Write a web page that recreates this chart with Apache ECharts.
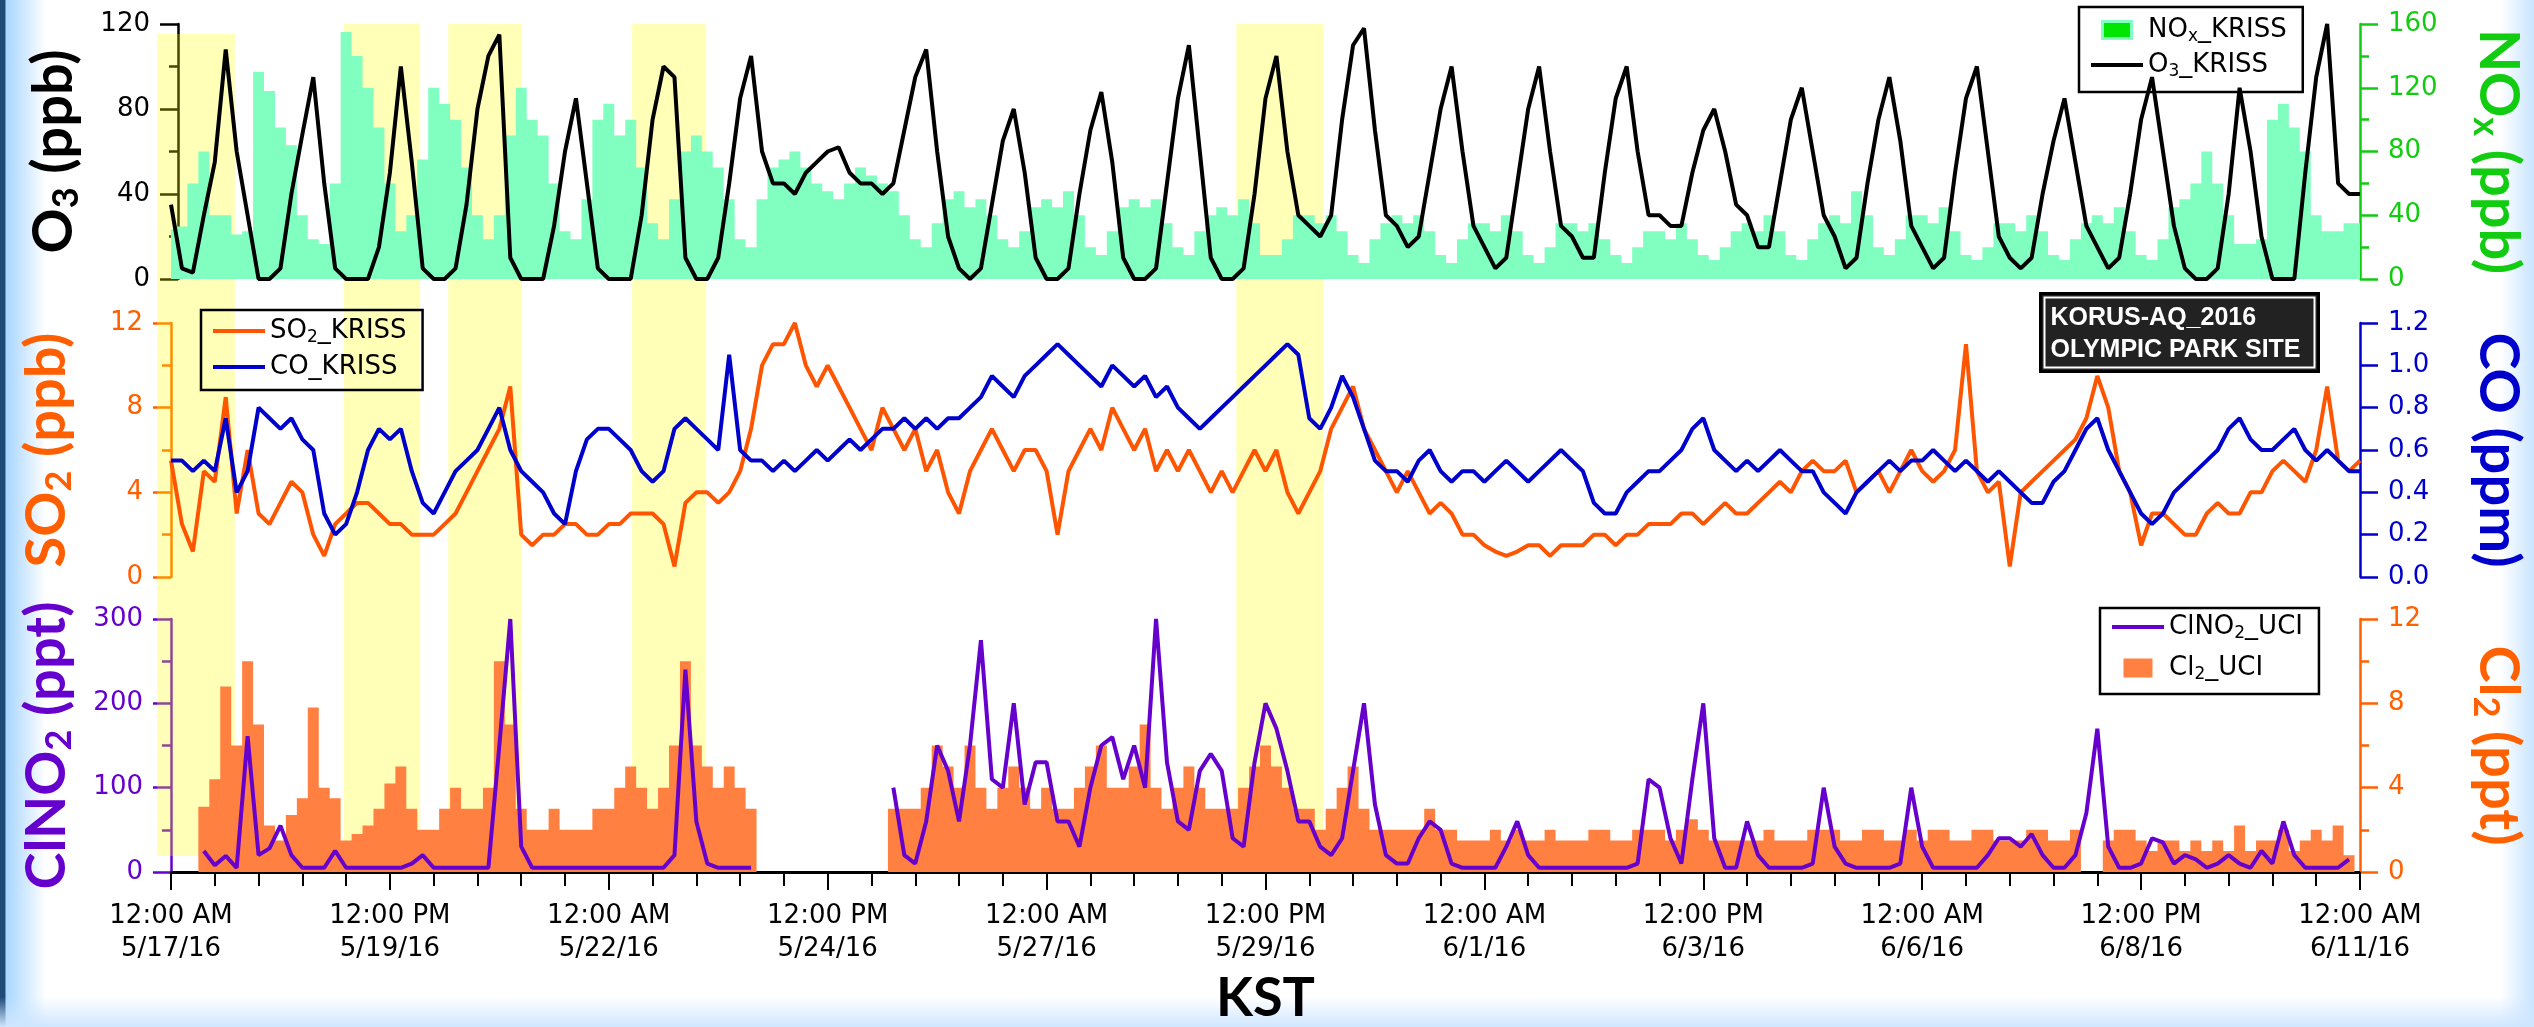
<!DOCTYPE html>
<html>
<head>
<meta charset="utf-8">
<script src="https://cdn.jsdelivr.net/npm/echarts@6/dist/echarts.min.js"></script>
<style>
html,body{margin:0;padding:0;width:2534px;height:1027px;overflow:hidden;background:#fff;}
#bgL{position:absolute;left:0;top:0;width:46px;height:1027px;background:linear-gradient(to right,#1e4a78 0,#1e4a78 5px,#a8d6ff 6px,#ffffff 46px);}
#bgR{position:absolute;right:0;top:0;width:34px;height:1027px;background:linear-gradient(to right,rgba(255,255,255,0) 0,#c8e4ff 100%);}
#bgB{position:absolute;left:0;bottom:0;width:2534px;height:30px;background:linear-gradient(to bottom,rgba(255,255,255,0) 0,#cfe6ff 100%);}
#container{position:absolute;left:0;top:0;width:2534px;height:1027px;}
</style>
</head>
<body>
<div id="bgL"></div><div id="bgR"></div><div id="bgB"></div>
<div id="container"></div>
<script>
// samples every 3 hours starting 12:00 AM 5/17/16 (one row = one day: 0,3,6,...,21 h)
var step = 3
var xTickLabels = ['12:00 AM\n5/17/16', '12:00 PM\n5/19/16', '12:00 AM\n5/22/16', '12:00 PM\n5/24/16',
    '12:00 AM\n5/27/16', '12:00 PM\n5/29/16', '12:00 AM\n6/1/16', '12:00 PM\n6/3/16',
    '12:00 AM\n6/6/16', '12:00 PM\n6/8/16', '12:00 AM\n6/11/16']

var o3 = [
    35, 5, 3, 30, 55, 108, 60, 30,
    0, 0, 5, 40, 68, 95, 45, 5,
    0, 0, 0, 15, 50, 100, 55, 5,
    0, 0, 5, 35, 80, 105, 115, 10,
    0, 0, 0, 25, 60, 85, 45, 5,
    0, 0, 0, 30, 75, 100, 95, 10,
    0, 0, 10, 45, 85, 105, 60, 45,
    45, 40, 50, 55, 60, 62, 50, 45,
    45, 40, 45, 70, 95, 108, 60, 20,
    5, 0, 5, 35, 65, 80, 50, 10,
    0, 0, 5, 40, 70, 88, 55, 10,
    0, 0, 5, 45, 85, 110, 60, 10,
    0, 0, 5, 40, 85, 105, 60, 30,
    25, 20, 30, 75, 110, 118, 70, 30,
    25, 15, 20, 50, 80, 100, 60, 25,
    15, 5, 10, 45, 80, 100, 60, 25,
    20, 10, 10, 50, 85, 100, 60, 30,
    30, 25, 25, 50, 70, 80, 60, 35,
    30, 15, 15, 45, 75, 90, 60, 30,
    20, 5, 10, 45, 75, 95, 65, 25,
    15, 5, 10, 50, 85, 100, 60, 20,
    10, 5, 10, 40, 65, 85, 55, 25,
    15, 5, 10, 40, 75, 95, 60, 25,
    5, 0, 0, 5, 40, 90, 60, 20,
    0, 0, 0, 50, 95, 120, 45, 40,
    40
]
var nox = [
    31, 33, 60, 80, 40, 40, 28, 30,
    130, 118, 95, 84, 40, 25, 22, 60,
    155, 140, 120, 95, 60, 30, 40, 75,
    120, 110, 100, 70, 40, 25, 40, 90,
    120, 100, 90, 60, 30, 25, 50, 100,
    110, 90, 100, 70, 35, 25, 50, 80,
    90, 80, 70, 50, 25, 20, 50, 70,
    75, 80, 70, 60, 55, 50, 60, 70,
    65, 60, 55, 40, 25, 20, 35, 50,
    55, 45, 50, 40, 25, 20, 30, 45,
    50, 45, 55, 40, 20, 15, 30, 45,
    50, 45, 50, 35, 20, 15, 30, 40,
    45, 40, 50, 35, 15, 15, 25, 40,
    40, 35, 40, 30, 15, 10, 25, 35,
    40, 35, 40, 30, 15, 10, 25, 35,
    35, 30, 40, 30, 15, 10, 20, 35,
    35, 30, 35, 25, 15, 10, 20, 30,
    30, 25, 35, 25, 15, 12, 20, 30,
    35, 30, 40, 30, 15, 12, 25, 35,
    40, 35, 55, 40, 20, 15, 25, 40,
    40, 35, 45, 30, 15, 12, 20, 35,
    35, 30, 40, 30, 15, 12, 25, 35,
    40, 35, 45, 30, 15, 12, 25, 45,
    50, 60, 80, 60, 40, 22, 22, 25,
    100, 110, 95, 80, 40, 30, 30, 35,
    35
]
var so2 = [
    5.5, 2.5, 1.2, 5, 4.5, 8.5, 3, 6,
    3, 2.5, 3.5, 4.5, 4, 2, 1, 2.5,
    3, 3.5, 3.5, 3, 2.5, 2.5, 2, 2,
    2, 2.5, 3, 4, 5, 6, 7, 9,
    2, 1.5, 2, 2, 2.5, 2.5, 2, 2,
    2.5, 2.5, 3, 3, 3, 2.5, 0.5, 3.5,
    4, 4, 3.5, 4, 5, 7, 10, 11,
    11, 12, 10, 9, 10, 9, 8, 7,
    6, 8, 7, 6, 7, 5, 6, 4,
    3, 5, 6, 7, 6, 5, 6, 6,
    5, 2, 5, 6, 7, 6, 8, 7,
    6, 7, 5, 6, 5, 6, 5, 4,
    5, 4, 5, 6, 5, 6, 4, 3,
    4, 5, 7, 8, 9, 7, 6, 5,
    4, 5, 4, 3, 3.5, 3, 2, 2,
    1.5, 1.2, 1, 1.2, 1.5, 1.5, 1, 1.5,
    1.5, 1.5, 2, 2, 1.5, 2, 2, 2.5,
    2.5, 2.5, 3, 3, 2.5, 3, 3.5, 3,
    3, 3.5, 4, 4.5, 4, 5, 5.5, 5,
    5, 5.5, 4, 4.5, 5, 4, 5, 6,
    5, 4.5, 5, 6, 11, 5, 4, 4.5,
    0.5, 4, 4.5, 5, 5.5, 6, 6.5, 7.5,
    9.5, 8, 5, 4, 1.5, 3, 3, 2.5,
    2, 2, 3, 3.5, 3, 3, 4, 4,
    5, 5.5, 5, 4.5, 6, 9, 5.5, 5,
    5.5
]
var co = [
    0.55, 0.55, 0.5, 0.55, 0.5, 0.75, 0.4, 0.5,
    0.8, 0.75, 0.7, 0.75, 0.65, 0.6, 0.3, 0.2,
    0.25, 0.4, 0.6, 0.7, 0.65, 0.7, 0.5, 0.35,
    0.3, 0.4, 0.5, 0.55, 0.6, 0.7, 0.8, 0.6,
    0.5, 0.45, 0.4, 0.3, 0.25, 0.5, 0.65, 0.7,
    0.7, 0.65, 0.6, 0.5, 0.45, 0.5, 0.7, 0.75,
    0.7, 0.65, 0.6, 1.05, 0.6, 0.55, 0.55, 0.5,
    0.55, 0.5, 0.55, 0.6, 0.55, 0.6, 0.65, 0.6,
    0.65, 0.7, 0.7, 0.75, 0.7, 0.75, 0.7, 0.75,
    0.75, 0.8, 0.85, 0.95, 0.9, 0.85, 0.95, 1.0,
    1.05, 1.1, 1.05, 1.0, 0.95, 0.9, 1.0, 0.95,
    0.9, 0.95, 0.85, 0.9, 0.8, 0.75, 0.7, 0.75,
    0.8, 0.85, 0.9, 0.95, 1.0, 1.05, 1.1, 1.05,
    0.75, 0.7, 0.8, 0.95, 0.85, 0.7, 0.55, 0.5,
    0.5, 0.45, 0.55, 0.6, 0.5, 0.45, 0.5, 0.5,
    0.45, 0.5, 0.55, 0.5, 0.45, 0.5, 0.55, 0.6,
    0.55, 0.5, 0.35, 0.3, 0.3, 0.4, 0.45, 0.5,
    0.5, 0.55, 0.6, 0.7, 0.75, 0.6, 0.55, 0.5,
    0.55, 0.5, 0.55, 0.6, 0.55, 0.5, 0.5, 0.4,
    0.35, 0.3, 0.4, 0.45, 0.5, 0.55, 0.5, 0.55,
    0.55, 0.6, 0.55, 0.5, 0.55, 0.5, 0.45, 0.5,
    0.45, 0.4, 0.35, 0.35, 0.45, 0.5, 0.6, 0.7,
    0.75, 0.6, 0.5, 0.4, 0.3, 0.25, 0.3, 0.4,
    0.45, 0.5, 0.55, 0.6, 0.7, 0.75, 0.65, 0.6,
    0.6, 0.65, 0.7, 0.6, 0.55, 0.6, 0.55, 0.5,
    0.5
]
var clno2 = [
    null, null, null, 25, 8, 19, 5, 161,
    20, 28, 55, 20, 5, 5, 5, 25,
    5, 5, 5, 5, 5, 5, 10, 20,
    5, 5, 5, 5, 5, 5, 150, 300,
    30, 5, 5, 5, 5, 5, 5, 5,
    5, 5, 5, 5, 5, 5, 20, 240,
    60, 10, 5, 5, 5, 5, null, null,
    null, null, null, null, null, null, null, null,
    null, null, 100, 20, 10, 60, 150, 120,
    60, 150, 275, 110, 100, 200, 80, 130,
    130, 60, 60, 30, 100, 150, 160, 110,
    150, 100, 300, 130, 60, 50, 120, 140,
    120, 40, 30, 130, 200, 170, 120, 60,
    60, 30, 20, 40, 120, 200, 80, 20,
    10, 10, 40, 60, 50, 10, 5, 5,
    5, 5, 30, 60, 20, 5, 5, 5,
    5, 5, 5, 5, 5, 5, 10, 110,
    100, 40, 10, 110, 200, 40, 5, 5,
    60, 20, 5, 5, 5, 5, 10, 100,
    30, 10, 5, 5, 5, 5, 10, 100,
    30, 5, 5, 5, 5, 5, 20, 40,
    40, 30, 45, 20, 5, 5, 20, 70,
    170, 30, 5, 5, 10, 40, 35, 10,
    20, 15, 5, 10, 20, 10, 5, 25,
    10, 60, 20, 5, 5, 5, 5, 15,
    null
]
var cl2 = [
    null, null, null, 3.1, 4.4, 8.8, 6, 10,
    7, 2.2, 1.5, 2.7, 3.5, 7.8, 4, 3.5,
    1.5, 1.8, 2.2, 3, 4.2, 5, 3, 2,
    2, 3, 4, 3, 3, 4, 10, 7,
    3, 2, 2, 3, 2, 2, 2, 3,
    3, 4, 5, 4, 3, 4, 6, 10,
    6, 5, 4, 5, 4, 3, null, null,
    null, null, null, null, null, null, null, null,
    null, null, 3, 3, 3, 4, 6, 5,
    4, 6, 4, 3, 4, 5, 4, 3,
    4, 3, 3, 4, 5, 6, 4, 4,
    5, 7, 4, 3, 4, 5, 4, 3,
    3, 3, 4, 5, 6, 5, 4, 3,
    3, 2, 3, 4, 5, 3, 2, 2,
    2, 2, 2, 3, 2, 2, 1.5, 1.5,
    1.5, 2, 1.5, 2, 1.5, 1.5, 2, 1.5,
    1.5, 1.5, 2, 2, 1.5, 1.5, 2, 2,
    2, 1.5, 2, 2.5, 2, 1.5, 1.5, 1.5,
    1.5, 1.5, 2, 1.5, 1.5, 1.5, 2, 2,
    2, 1.5, 1.5, 2, 2, 1.5, 1.5, 2,
    1.5, 2, 2, 1.5, 1.5, 2, 2, 1.5,
    1.5, 1.5, 2, 2, 1.5, 1.5, 2, null,
    null, 1.5, 2, 2, 1.5, 1, 1.5, 1.5,
    1, 1.5, 1, 1.5, 1, 2.2, 1, 1.5,
    1.5, 2, 1, 1.5, 2, 1.5, 2.2, 0.8,
    null
]
// yellow highlight periods, hours from 12:00 AM 5/17/16
var bandStart = [-3.8, 47.4, 76.0, 126.4, 292.0]
var bandEnd = [17.5, 68.3, 96.2, 146.7, 315.9]

var TITLE_FONT = 'Lato, "DejaVu Sans", sans-serif'
var PLOT_L = 171, PLOT_R = 2360
var pxPerHour = (PLOT_R - PLOT_L) / 600

function pairs(vals){
    return vals.map(function(v, i){ return [i * step, v] })
}

function titleRich(color){
    return {
        m: { fontSize: 56, fontWeight: 'bold', fontFamily: TITLE_FONT, color: color, lineHeight: 60 },
        s: { fontSize: 36, fontWeight: 'bold', fontFamily: TITLE_FONT, color: color, verticalAlign: 'bottom', lineHeight: 22 }
    }
}

function yAxisOf(grid, pos, min, max, interval, color, name, minorSplit, digits, offset){
    return {
        type: 'value', gridIndex: grid, position: pos, min: min, max: max, interval: interval, offset: offset || 0,
        name: name, nameLocation: 'middle', nameGap: pos === 'left' ? 94 : 108,
        nameRotate: pos === 'left' ? 90 : -90,
        nameTextStyle: { color: color, rich: titleRich(color) },
        axisLine: { show: true, onZero: false, lineStyle: { color: color, width: 2.5 } },
        axisTick: { show: true, length: 18, lineStyle: { color: color, width: 2.5 } },
        minorTick: { show: minorSplit > 1, splitNumber: minorSplit || 2, length: 9, lineStyle: { color: color, width: 2.5 } },
        axisLabel: { color: color, fontSize: 26, fontFamily: 'DejaVu Sans', margin: 28,
            formatter: function(v){ return v.toFixed(digits) } },
        splitLine: { show: false }
    }
}

function hiddenX(grid, min){
    return { type: 'value', gridIndex: grid, min: min, max: 600, show: false }
}

var legendText = {
    'NOx_KRISS': '{m|NO}{s|x}{m|_KRISS}',
    'O3_KRISS': '{m|O}{s|3}{m|_KRISS}',
    'SO2_KRISS': '{m|SO}{s|2}{m|_KRISS}',
    'CO_KRISS': '{m|CO_KRISS}',
    'ClNO2_UCI': '{m|ClNO}{s|2}{m|_UCI}',
    'Cl2_UCI': '{m|Cl}{s|2}{m|_UCI}'
}
var legendStyle = {
    fontSize: 26, fontFamily: 'DejaVu Sans', color: '#000',
    rich: {
        m: { fontSize: 26, fontFamily: 'DejaVu Sans', color: '#000', lineHeight: 30 },
        s: { fontSize: 17, fontFamily: 'DejaVu Sans', color: '#000', verticalAlign: 'bottom', lineHeight: 6 }
    }
}
var LINE_ICON = 'path://M0,0H52V4H0Z'
function legendOf(names, left, top, extra){
    var l = {
        data: names, orient: 'vertical', left: left, top: top, itemWidth: 52, itemHeight: 17, itemGap: 8,
        padding: [8, 16, 10, 12], borderColor: '#000', borderWidth: 2.5, backgroundColor: 'rgba(255,255,255,0)',
        selectedMode: false, formatter: function(n){ return legendText[n] }, textStyle: legendStyle
    }
    return Object.assign(l, extra || {})
}

var myChart = echarts.init(document.getElementById('container'))

var option = {
    animation: false,
    grid: [
        { left: PLOT_L, right: 2534 - PLOT_R, top: 24, height: 255 },
        { left: PLOT_L, right: 2534 - PLOT_R, top: 323, height: 254 },
        { left: PLOT_L, right: 2534 - PLOT_R, top: 619, height: 255 },
        { left: PLOT_L - 8 * pxPerHour, right: 2534 - PLOT_R, top: 24, height: 832 }
    ],
    xAxis: [
        hiddenX(0, 0), hiddenX(1, 0),
        {
            type: 'value', gridIndex: 2, min: 0, max: 600, interval: 60,
            axisLine: { show: true, onZero: false, lineStyle: { color: '#000', width: 3 } },
            axisTick: { show: true, length: 18, lineStyle: { color: '#000', width: 2 } },
            minorTick: { show: true, splitNumber: 5, length: 14, lineStyle: { color: '#000', width: 2 } },
            axisLabel: { color: '#000', fontSize: 26, fontFamily: 'DejaVu Sans', margin: 28, lineHeight: 33,
                formatter: function(v){ return xTickLabels[Math.round(v / 60)] } },
            splitLine: { show: false },
            name: 'KST', nameLocation: 'middle', nameGap: 100,
            nameTextStyle: { fontSize: 54, fontWeight: 'bold', fontFamily: TITLE_FONT, color: '#000' }
        },
        hiddenX(3, -8)
    ],
    yAxis: [
        yAxisOf(0, 'left', 0, 120, 40, '#000', '{m|O}{s|3}{m| (ppb)}', 2, 0, -7),
        yAxisOf(0, 'right', 0, 160, 40, '#11cc11', '{m|NO}{s|x}{m| (ppb)}', 2, 0),
        yAxisOf(1, 'left', 0, 12, 4, '#ff5f00', '{m|SO}{s|2}{m| (ppb)}', 2, 0),
        yAxisOf(1, 'right', 0, 1.2, 0.2, '#0000cc', '{m|CO (ppm)}', 0, 1),
        yAxisOf(2, 'left', 0, 300, 100, '#6600cc', '{m|ClNO}{s|2}{m| (ppt)}', 2, 0),
        yAxisOf(2, 'right', 0, 12, 4, '#ff6000', '{m|Cl}{s|2}{m| (ppt)}', 2, 0),
        { type: 'value', gridIndex: 3, min: 0, max: 1, show: false }
    ],
    legend: [
        legendOf([{ name: 'NOx_KRISS', icon: 'path://M0,0H29V17H0Z',
            itemStyle: { color: '#00e600', borderColor: '#80ffc0', borderWidth: 3 } },
            { name: 'O3_KRISS', icon: LINE_ICON }], 2079, 7, { padding: [10, 16, 12, 12], itemGap: 7 }),
        legendOf([{ name: 'SO2_KRISS', icon: LINE_ICON }, { name: 'CO_KRISS', icon: LINE_ICON }], 201, 310),
        legendOf([{ name: 'ClNO2_UCI', icon: LINE_ICON }, { name: 'Cl2_UCI', icon: 'path://M0,0H29V19H0Z' }], 2100, 608,
            { itemHeight: 19, itemGap: 13, padding: [6, 16, 11, 12] })
    ],
    graphic: [{
        type: 'group', left: 2039, top: 292,
        children: [
            { type: 'rect', shape: { x: 0, y: 0, width: 278, height: 78 }, style: { fill: '#222', stroke: '#000', lineWidth: 3 } },
            { type: 'rect', shape: { x: 4, y: 4, width: 270, height: 70 }, style: { fill: 'none', stroke: '#fff', lineWidth: 2 } },
            { type: 'text', x: 10, y: 9, style: { text: 'KORUS-AQ_2016\nOLYMPIC PARK SITE', fill: '#fff',
                font: 'bold 25px "Liberation Sans", Arial, sans-serif', lineHeight: 32 } }
        ]
    }],
    series: [
        { name: 'NOx_KRISS', type: 'line', xAxisIndex: 0, yAxisIndex: 1, data: pairs(nox), step: 'middle',
          symbol: 'none', lineStyle: { width: 0 }, itemStyle: { color: '#80ffc0' }, areaStyle: { color: '#80ffc0', opacity: 1 } },
        { name: 'O3_KRISS', type: 'line', xAxisIndex: 0, yAxisIndex: 0, data: pairs(o3),
          symbol: 'none', lineStyle: { width: 4, color: '#000' }, itemStyle: { color: '#000' } },
        { name: 'SO2_KRISS', type: 'line', xAxisIndex: 1, yAxisIndex: 2, data: pairs(so2),
          symbol: 'none', lineStyle: { width: 4, color: '#ff5500' }, itemStyle: { color: '#ff5500' } },
        { name: 'CO_KRISS', type: 'line', xAxisIndex: 1, yAxisIndex: 3, data: pairs(co),
          symbol: 'none', lineStyle: { width: 4, color: '#0000cc' }, itemStyle: { color: '#0000cc' } },
        { name: 'Cl2_UCI', type: 'line', xAxisIndex: 2, yAxisIndex: 5, data: pairs(cl2), step: 'middle',
          symbol: 'none', lineStyle: { width: 0 }, itemStyle: { color: '#ff8040' }, areaStyle: { color: '#ff8040', opacity: 1 } },
        { name: 'ClNO2_UCI', type: 'line', xAxisIndex: 2, yAxisIndex: 4, data: pairs(clno2),
          symbol: 'none', lineStyle: { width: 4, color: '#6600cc' }, itemStyle: { color: '#6600cc' } },
        { name: 'bands', type: 'line', xAxisIndex: 3, yAxisIndex: 6, data: [], silent: true, z: 10,
          markArea: { silent: true, itemStyle: { color: 'rgba(255,255,0,0.28)' },
            data: bandStart.map(function(s, i){
                return [{ xAxis: s, yAxis: i === 0 ? 0 : 0.008 }, { xAxis: bandEnd[i], yAxis: i === 0 ? 0.988 : 1 }]
            }) } }
    ]
}
myChart.setOption(option, true)
</script>
</body>
</html>
